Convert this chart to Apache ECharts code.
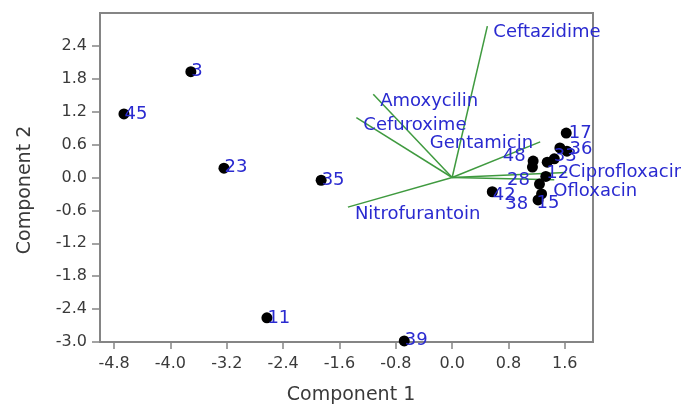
<!DOCTYPE html>
<html>
<head>
<meta charset="utf-8">
<script src="https://cdn.jsdelivr.net/npm/echarts@6/dist/echarts.min.js"></script>
<style>
html,body{margin:0;padding:0;background:#fff;}
#chart{width:681px;height:407px;}
</style>
</head>
<body>
<div id="chart"></div>
<script>
// ---- data ----
var xTicks = [-4.8, -4.0, -3.2, -2.4, -1.6, -0.8, 0.0, 0.8, 1.6];
var yTicks = [-3.0, -2.4, -1.8, -1.2, -0.6, 0.0, 0.6, 1.2, 1.8, 2.4];

// case scores (label, component 1, component 2)
var caseLabels = ['3', '45', '23', '35', '11', '39', '42', '17', '36', '', '33', '', '48', '', '12', '28', '38', '15'];
var caseX = [-3.71, -4.66, -3.24, -1.86, -2.63, -0.68, 0.57, 1.62, 1.63, 1.53, 1.45, 1.35, 1.15, 1.14, 1.33, 1.24, 1.27, 1.22];
var caseY = [1.93, 1.16, 0.17, -0.05, -2.56, -2.98, -0.26, 0.81, 0.48, 0.54, 0.34, 0.28, 0.30, 0.19, 0.02, -0.12, -0.30, -0.41];

// variable loadings (vectors from origin)
var varNames = ['Ceftazidime', 'Amoxycilin', 'Cefuroxime', 'Gentamicin', 'Ciprofloxacin', 'Ofloxacin', 'Nitrofurantoin'];
var varX = [0.50, -1.12, -1.36, 1.25, 1.62, 1.45, -1.48];
var varY = [2.76, 1.52, 1.09, 0.65, 0.09, -0.04, -0.54];

// ---- label placement (styling, kept separate from data) ----
var caseLabelPos = {
  '3': [6, 5, 'left'], '45': [6, 6, 'left'], '23': [6, 5, 'left'], '35': [6, 6, 'left'],
  '11': [6, 6, 'left'], '39': [6, 5, 'left'], '42': [6, 9, 'left'], '17': [8, 6, 'left'],
  '36': [8, 4, 'left'], '33': [5, 3, 'left'], '48': [-2, 1, 'right'], '12': [6, 2, 'left'],
  '28': [-4, 2, 'right'], '38': [-8, 16, 'right'], '15': [4, 9, 'left']
};
var varLabelPos = {
  'Ceftazidime': [6, 6, 'left'], 'Amoxycilin': [7, 7, 'left'], 'Cefuroxime': [7, 8, 'left'],
  'Gentamicin': [-7, 1, 'right'], 'Ciprofloxacin': [2, 0, 'left'], 'Ofloxacin': [-1, 12, 'left'],
  'Nitrofurantoin': [7, 7, 'left']
};

var BLUE = '#2a2ad0';
var GREEN = '#3f9a3f';
var AXIS = '#858585';
var FONT = 'DejaVu Sans';
var LABEL_SIZE = 18;

var chart = echarts.init(document.getElementById('chart'), null, {renderer: 'canvas'});

var series = [];
// vectors
for (var i = 0; i < varNames.length; i++) {
  series.push({
    type: 'line', silent: true, z: 2,
    data: [[0, 0], [varX[i], varY[i]]],
    showSymbol: false, symbol: 'none',
    lineStyle: {color: GREEN, width: 1.5},
    animation: false
  });
}
// vector labels
series.push({
  type: 'scatter', z: 5, symbolSize: 0, silent: true, animation: false,
  itemStyle: {opacity: 1},
  data: varNames.map(function (n, i) {
    var p = varLabelPos[n];
    return {
      value: [varX[i], varY[i]], name: n,
      label: {show: true, formatter: n, position: [p[0], p[1]], align: p[2], verticalAlign: 'middle',
        color: BLUE, fontFamily: FONT, fontSize: LABEL_SIZE}
    };
  })
});
// case points
series.push({
  type: 'scatter', z: 4, symbolSize: 11, silent: true, animation: false,
  itemStyle: {color: '#000', opacity: 1},
  data: caseLabels.map(function (n, i) {
    var p = caseLabelPos[n];
    return {
      value: [caseX[i], caseY[i]], name: n,
      label: p ? {show: true, formatter: n, position: [p[0], p[1]], align: p[2], verticalAlign: 'middle',
        color: BLUE, fontFamily: FONT, fontSize: LABEL_SIZE} : {show: false}
    };
  })
});

chart.setOption({
  animation: false,
  backgroundColor: '#fff',
  grid: {left: 100, right: 88, top: 13, bottom: 65, show: true, borderColor: AXIS, borderWidth: 2},
  xAxis: {
    type: 'value', min: -5.0, max: 2.0,
    axisLine: {show: true, onZero: false, lineStyle: {color: AXIS, width: 2}},
    axisTick: {show: true, length: 7, customValues: xTicks, lineStyle: {color: AXIS, width: 1.5}},
    axisLabel: {customValues: xTicks, margin: 14, color: '#3a3a3a', fontFamily: FONT, fontSize: 16,
      formatter: function (v) { return v.toFixed(1); }},
    splitLine: {show: false}
  },
  yAxis: {
    type: 'value', min: -3.0, max: 3.0,
    axisLine: {show: true, onZero: false, lineStyle: {color: AXIS, width: 2}},
    axisTick: {show: true, length: 8, customValues: yTicks, lineStyle: {color: AXIS, width: 1.5}},
    axisLabel: {customValues: yTicks, margin: 13, color: '#3a3a3a', fontFamily: FONT, fontSize: 16,
      formatter: function (v) { return v.toFixed(1); }},
    splitLine: {show: false}
  },
  graphic: [
    {type: 'text', style: {text: 'Component 1', fill: '#3a3a3a', font: '19px "DejaVu Sans"', align: 'center', verticalAlign: 'middle'}, position: [351, 395]},
    {type: 'text', style: {text: 'Component 2', fill: '#3a3a3a', font: '19px "DejaVu Sans"', align: 'center', verticalAlign: 'middle'}, position: [25, 190], rotation: Math.PI / 2}
  ],
  series: series
});
</script>
</body>
</html>
